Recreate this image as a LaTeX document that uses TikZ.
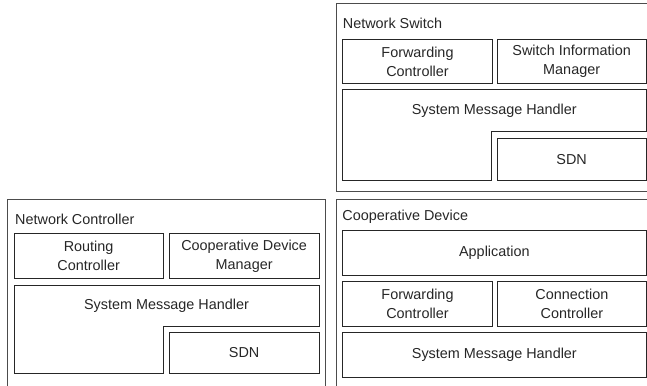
\documentclass[tikz,border=0pt]{standalone}
\usepackage{fontspec}
\setmainfont{Liberation Sans}
\begin{document}
\begin{tikzpicture}[x=1pt, y=-1pt,
  every node/.style={font=\fontsize{14.4}{19}\selectfont, text=black!85},
  outerbox/.style={draw=black!70, line width=1pt},
  part/.style={draw=black!85, line width=1pt, inner sep=0pt, align=center},
  steppart/.style={draw=black!85, line width=1pt},
  heading/.style={anchor=base west, inner sep=0pt}]
\useasboundingbox (0,0) rectangle (647,385);
\clip (0,0) rectangle (647,385);

% ---- Network Switch ----
\draw[outerbox] (336,4) rectangle (660,191.5);
\node[heading] (nstitle) at (342.7,28.3) {Network Switch};
\node[part, minimum width=149.6pt, minimum height=44.7pt] (nsfc) at (417.5,61.65) {Forwarding\\Controller};
\node[part, minimum width=148.7pt, minimum height=44.7pt] (nssim) at (571.65,61.65) {Switch Information\\Manager};
\draw[steppart] (342.7,90) -- (646,90) -- (646,131.7) -- (491.7,131.7) -- (491.7,180) -- (342.7,180) -- cycle;
\node (nssmh) at (494.3,110.8) {System Message Handler};
\node[part, minimum width=148.7pt, minimum height=41.7pt] (nssdn) at (571.65,159.15) {SDN};

% ---- Network Controller ----
\draw[outerbox] (7.3,199) rectangle (325,400);
\node[heading] (nctitle) at (15,224.3) {Network Controller};
\node[part, minimum width=149.3pt, minimum height=45pt] (ncrc) at (88.65,255.8) {Routing\\Controller};
\node[part, minimum width=149.7pt, minimum height=45pt] (nccdm) at (244.15,255.8) {Cooperative Device\\Manager};
\draw[steppart] (14,285) -- (319,285) -- (319,326) -- (163.3,326) -- (163.3,373.3) -- (14,373.3) -- cycle;
\node (ncsmh) at (166.5,305.5) {System Message Handler};
\node[part, minimum width=149.7pt, minimum height=40.6pt] (ncsdn) at (244.15,353) {SDN};

% ---- Cooperative Device ----
\draw[outerbox] (336,199) rectangle (660,400);
\node[heading] (cdtitle) at (342.2,220.5) {Cooperative Device};
\node[part, minimum width=303.3pt, minimum height=44.3pt] (cdapp) at (494.35,252.85) {Application};
\node[part, minimum width=149.6pt, minimum height=44.3pt] (cdfc) at (417.5,303.85) {Forwarding\\Controller};
\node[part, minimum width=148.3pt, minimum height=44.3pt] (cdcc) at (571.85,303.85) {Connection\\Controller};
\node[part, minimum width=303.3pt, minimum height=44.6pt] (cdsmh) at (494.35,355) {System Message Handler};
\end{tikzpicture}
\end{document}
